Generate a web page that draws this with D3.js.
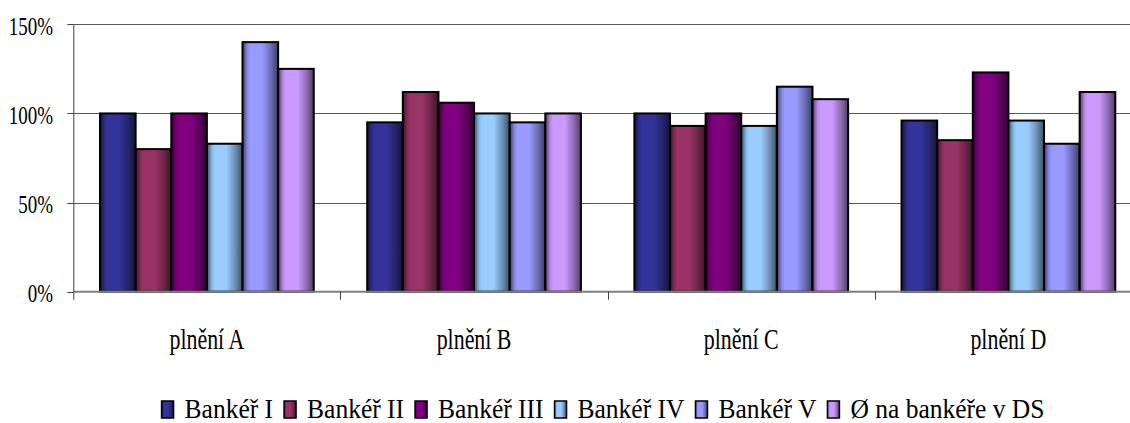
<!DOCTYPE html>
<html>
<head>
<meta charset="utf-8">
<script src="https://cdn.jsdelivr.net/npm/d3@7"></script>
<style>
  html, body { margin: 0; padding: 0; background: #fff; }
  svg { display: block; }
</style>
</head>
<body>
<svg id="chart" width="1130" height="423"></svg>
<script>
// Categories along the x axis
const categories = ["plnění A", "plnění B", "plnění C", "plnění D"];

// Series names (legend order)
const seriesNames = ["Bankéř I", "Bankéř II", "Bankéř III", "Bankéř IV", "Bankéř V", "Ø na bankéře v DS"];

// Fulfilment in percent, one array per series, in category order
const bankerI   = [100, 95, 100, 96];
const bankerII  = [80, 112, 93, 85];
const bankerIII = [100, 106, 100, 123];
const bankerIV  = [83, 100, 93, 96];
const bankerV   = [140, 95, 115, 83];
const averageDS = [125, 100, 108, 112];

// Y axis ticks and their labels
const yTicks = [0, 50, 100, 150];
const yTickLabels = ["0%", "50%", "100%", "150%"];

const seriesColors = ["#333399", "#993366", "#800080", "#99CCFF", "#9999FF", "#CC99FF"];

const seriesValues = [bankerI, bankerII, bankerIII, bankerIV, bankerV, averageDS];
const series = seriesNames.map((name, i) => ({ name, values: seriesValues[i], color: seriesColors[i] }));

const FONT = "Liberation Serif";

const svg = d3.select("#chart");

// Plot area (extends slightly past the right edge of the canvas)
const plot = { left: 73.3, right: 1142, top: 24.3, bottom: 291.7 };

const x0 = d3.scaleBand().domain(categories).range([plot.left, plot.right]).padding(0);
const bw = x0.bandwidth();
const barW = bw / 7.5;            // six bars + gap of 1.5 bar widths
const x1 = d3.scaleBand().domain(seriesNames)
  .range([barW * 0.75, bw - barW * 0.75]).padding(0);
const y = d3.scaleLinear().domain([0, 150]).range([plot.bottom, plot.top]);

// Shaded fills for the bars (dark edges, bright body)
const defs = svg.append("defs");
series.forEach((s, i) => {
  const c = d3.color(s.color);
  const g = defs.append("linearGradient").attr("id", "grad" + i)
    .attr("x1", 0).attr("x2", 1).attr("y1", 0).attr("y2", 0);
  const stops = [
    [0, c.darker(2.6)],
    [0.14, c.darker(0.3)],
    [0.22, c],
    [0.55, c],
    [0.8, c.darker(1.0)],
    [1, c.darker(2.6)]
  ];
  stops.forEach(([o, col]) => g.append("stop").attr("offset", o).attr("stop-color", col.formatHex()));
});

// Gridlines
svg.append("g").selectAll("line")
  .data(yTicks.filter(t => t > 0))
  .join("line")
  .attr("x1", plot.left).attr("x2", plot.right)
  .attr("y1", d => Math.round(y(d)) + 0.5).attr("y2", d => Math.round(y(d)) + 0.5)
  .attr("stroke", "#5a5a5a").attr("stroke-width", 1);

// Bars
const groups = svg.append("g").selectAll("g")
  .data(categories)
  .join("g")
  .attr("transform", d => `translate(${x0(d)},0)`);

groups.selectAll("rect")
  .data((cat, ci) => series.map((s, si) => ({ name: s.name, value: s.values[ci], si })))
  .join("rect")
  .attr("x", d => x1(d.name))
  .attr("y", d => y(d.value))
  .attr("width", x1.bandwidth())
  .attr("height", d => y(0) - y(d.value))
  .attr("fill", d => `url(#grad${d.si})`)
  .attr("stroke", "#000")
  .attr("stroke-width", 2);

// X axis baseline
svg.append("line")
  .attr("x1", plot.left).attr("x2", plot.right)
  .attr("y1", plot.bottom).attr("y2", plot.bottom)
  .attr("stroke", "#808080").attr("stroke-width", 2);

// Y axis line
svg.append("line")
  .attr("x1", plot.left + 0.5).attr("x2", plot.left + 0.5)
  .attr("y1", plot.top).attr("y2", plot.bottom + 8)
  .attr("stroke", "#404040").attr("stroke-width", 1);

// Y ticks
svg.append("g").selectAll("line")
  .data(yTicks)
  .join("line")
  .attr("x1", plot.left - 6).attr("x2", plot.left)
  .attr("y1", d => Math.round(y(d)) + 0.5).attr("y2", d => Math.round(y(d)) + 0.5)
  .attr("stroke", "#404040").attr("stroke-width", 1);

// Category separator ticks
svg.append("g").selectAll("line")
  .data(categories.slice(1))
  .join("line")
  .attr("x1", d => Math.round(x0(d)) + 0.5).attr("x2", d => Math.round(x0(d)) + 0.5)
  .attr("y1", plot.bottom).attr("y2", plot.bottom + 8)
  .attr("stroke", "#404040").attr("stroke-width", 1);

// Condensed serif text helper
function label(parent, x, yPos, str, size, k, anchor) {
  const g = parent.append("g").attr("transform", `translate(${x},${yPos}) scale(${k},1)`);
  g.append("text")
    .style("font-family", FONT)
    .style("font-size", size + "px")
    .attr("fill", "#000")
    .attr("text-anchor", anchor)
    .text(str);
  return g;
}

// Y tick labels
yTicks.forEach((t, i) => label(svg, 53, y(t) + 10.5, yTickLabels[i], 26, 0.73, "end"));

// Category labels
categories.forEach(c => label(svg, x0(c) + bw / 2, 348.5, c, 30, 0.73, "middle"));

// Legend
const legend = svg.append("g");
const legendK = 0.945, legendSize = 27;
let cursor = 0;
series.forEach((s, i) => {
  const g = legend.append("g");
  g.append("rect")
    .attr("x", cursor).attr("y", 401)
    .attr("width", 12).attr("height", 17)
    .attr("fill", `url(#grad${i})`)
    .attr("stroke", "#000").attr("stroke-width", 1.5);
  const t = label(g, cursor + 23, 417.5, s.name, legendSize, legendK, "start");
  const w = t.select("text").node().getComputedTextLength() * legendK;
  cursor += 23 + w + 11;
});
const totalW = cursor - 11;
legend.attr("transform", `translate(${603 - totalW / 2},0)`);
</script>
</body>
</html>
